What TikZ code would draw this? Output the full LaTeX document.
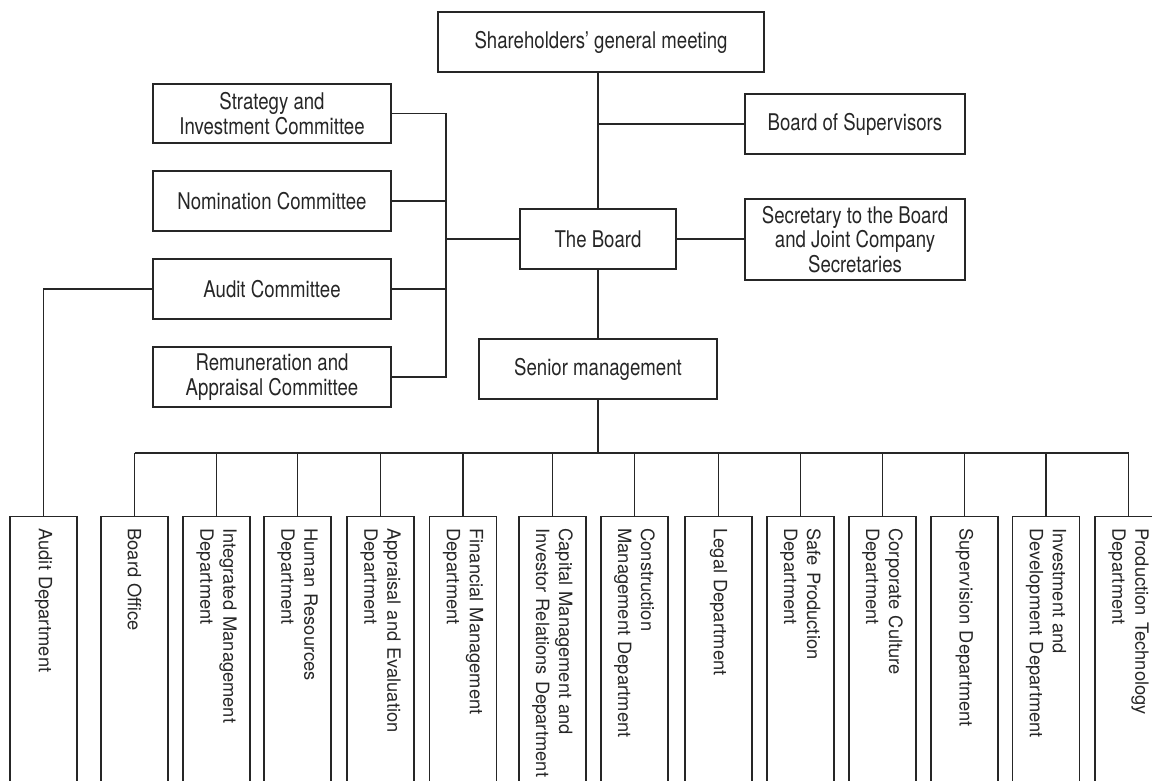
\documentclass[tikz,border=0pt]{standalone}
\usepackage{fontspec}
\newfontfamily\topfont{TeX Gyre Heros}[FakeStretch=0.81]
\newfontfamily\deptfont{TeX Gyre Heros}
\begin{document}
\begin{tikzpicture}[x=1pt,y=-1pt,
  box/.style={draw=black!85, line width=1.1pt, text=black!85, font=\topfont\fontsize{23}{24.5}\selectfont, align=center, inner sep=0pt},
  dept/.style={draw=black!85, line width=1.1pt, text=black!85, font=\deptfont\fontsize{18.3}{23}\selectfont, rotate=-90, anchor=west, minimum height=67pt, minimum width=300pt, inner xsep=12pt, inner ysep=0pt, text width=276pt, align=left},
  link/.style={draw=black!85, line width=1.1pt}]
\useasboundingbox (0,0) rectangle (1152,781);
% top part
\node[box, minimum width=326pt, minimum height=60pt] (sgm) at (601,42) {Shareholders’ general meeting};
\node[box, minimum width=220pt, minimum height=60pt] (bos) at (855,124) {Board of Supervisors};
\node[box, minimum width=156pt, minimum height=60pt] (board) at (598,239) {The Board};
\node[box, minimum width=220pt, minimum height=81pt] (sec) at (855,239.5) {Secretary to the Board\\and Joint Company\\Secretaries};
\node[box, minimum width=238pt, minimum height=60pt] (senior) at (598,369) {Senior management};
\node[box, minimum width=238pt, minimum height=59pt] (strat) at (272,113.5) {Strategy and\\Investment Committee};
\node[box, minimum width=238pt, minimum height=60pt] (nom) at (272,201) {Nomination Committee};
\node[box, minimum width=238pt, minimum height=60pt] (aud) at (272,289) {Audit Committee};
\node[box, minimum width=238pt, minimum height=60pt] (rem) at (272,377) {Remuneration and\\Appraisal Committee};
% departments
\begin{scope}
\clip (0,0) rectangle (1152,781);
\node[dept] (d1) at (43.5,516) {Audit Department};
\node[dept] (d2) at (134.5,516) {Board Office};
\node[dept] (d3) at (216.5,516) {Integrated Management\\Department};
\node[dept] (d4) at (297.5,516) {Human Resources\\Department};
\node[dept] (d5) at (380.5,516) {Appraisal and Evaluation\\Department};
\node[dept] (d6) at (463,516) {Financial Management\\Department};
\node[dept] (d7) at (552.5,516) {Capital Management and\\Investor Relations Department};
\node[dept] (d8) at (634.5,516) {Construction\\Management Department};
\node[dept] (d9) at (718.5,516) {Legal Department};
\node[dept] (d10) at (800.5,516) {Safe Production\\Department};
\node[dept] (d11) at (882.5,516) {Corporate Culture\\Department};
\node[dept] (d12) at (964.5,516) {Supervision Department};
\node[dept] (d13) at (1046,516) {Investment and\\Development Department};
\node[dept] (d14) at (1128.5,516) {Production Technology\\Department};
\end{scope}
% connectors
\coordinate (cbus) at (446,239);
\coordinate (bus) at (598,453);
\draw[link] (sgm.south -| board.north) -- (board.north);
\draw[link] (bos.west) -- (bos.west -| board.north);
\draw[link] (board.east) -- (board.east -| sec.west);
\draw[link] (board.south) -- (senior.north);
\draw[link] (strat.east) -| (cbus) |- (rem.east);
\draw[link] (nom.east) -- (nom.east -| cbus);
\draw[link] (aud.east) -- (aud.east -| cbus);
\draw[link] (board.west) -- (cbus);
\draw[link] (aud.west) -| (d1.west);
\draw[link] (senior.south) -- (bus);
\draw[link] (d2.west |- bus) -- (d14.west |- bus);
\foreach \i in {2,...,14} { \draw[link] (d\i.west |- bus) -- (d\i.west); }
\end{tikzpicture}
\end{document}
